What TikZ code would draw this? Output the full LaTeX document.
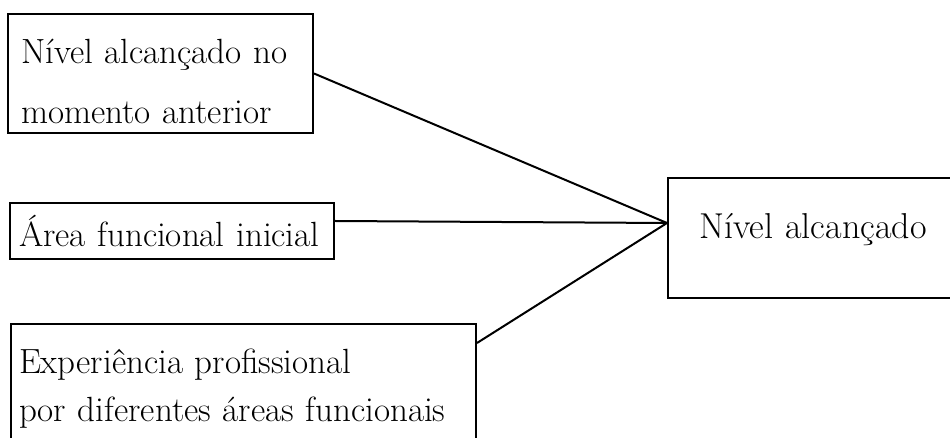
\documentclass[tikz,border=0pt]{standalone}
\usepackage{fontspec}
\usetikzlibrary{positioning}
\tikzset{
  box/.style={draw, line width=1pt, anchor=north west, align=left,
    inner xsep=4pt, text width=#1},
  link/.style={line width=1pt},
}

\begin{document}
\begin{tikzpicture}[x=0.5pt, y=-0.5pt]
  \clip (0,0) rectangle (950,438);

  \node[box=139.5pt, inner xsep=6.5pt, minimum height=59.5pt, text height=20pt,
      font=\fontsize{17.5}{30}\selectfont]
      (prev) at (7,13) {Nível alcançado no\\momento anterior};
  \node[box=153pt, inner xsep=4.5pt, minimum height=28pt,
      font=\fontsize{17.5}{20}\selectfont]
      (area) at (9,202) {Área funcional inicial};
  \node[box=224.5pt, minimum height=60pt, text height=17pt,
      font=\fontsize{17.5}{24}\selectfont]
      (exp) at (10,323) {Experiência profissional\\por diferentes áreas funcionais};

  \node[box=137pt, align=center, minimum height=60pt, text depth=12pt,
      font=\fontsize{18}{20}\selectfont]
      (goal) at (667,177) {Nível alcançado};

  \coordinate (hub) at ([yshift=7.5pt]goal.west);
  \draw[link] (prev.east) -- (hub);
  \draw[link] ([yshift=5pt]area.east) -- (hub);
  \draw[link] ([yshift=-10pt]exp.north east) -- (hub);

\end{tikzpicture}
\end{document}
